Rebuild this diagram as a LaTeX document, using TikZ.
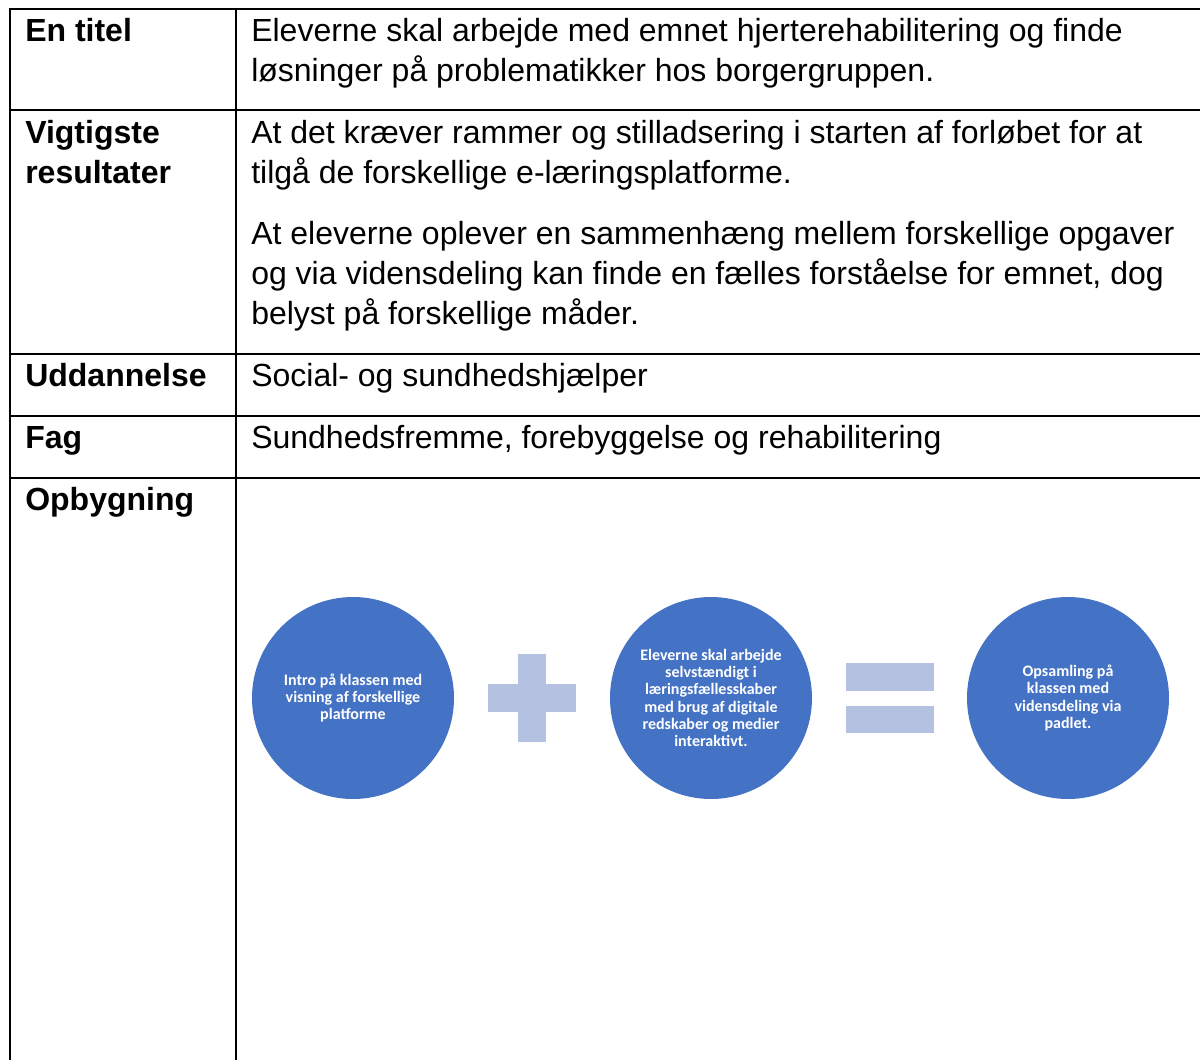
\documentclass[tikz,border=0pt]{standalone}
\usepackage{fontspec}
\setmainfont{Liberation Sans}
\newfontfamily\circfont{Carlito}
\definecolor{circblue}{HTML}{4472C4}
\definecolor{signblue}{HTML}{B4C1E1}

\begin{document}
\begin{tikzpicture}[x=0.75pt,y=-0.75pt,
  rule/.style={line width=1.6pt},
  head/.style={anchor=base west,inner sep=0pt,align=left,font=\fontsize{24}{30}\selectfont\bfseries},
  body/.style={anchor=base west,inner sep=0pt,align=left,font=\fontsize{24}{30}\selectfont},
  stepcirc/.style={circle,fill=circblue,minimum size=151.5pt,inner sep=0pt,text=white,align=center,font=\circfont\bfseries\fontsize{12}{13}\selectfont}]
\useasboundingbox (0,0) rectangle (1200,1060);

% table rules
\draw[rule] (10,1060) -- (10,9) -- (1200,9);
\draw[rule] (236,9) -- (236,1060);
\foreach \y in {110,354,416,478}
  \draw[rule] (10,\y) -- (1200,\y);

% left column (base = last line)
\node[head] (titel) at (25,41) {En titel};
\node[head] (result) at (25,183) {Vigtigste\\resultater};
\node[head] (udd) at (25,386) {Uddannelse};
\node[head] (fag) at (25,448) {Fag};
\node[head] (opb) at (25,510) {Opbygning};

% right column
\node[body] (titeltxt) at (251,81) {Eleverne skal arbejde med emnet hjerterehabilitering og finde\\l\o sninger p\aa{} problematikker hos borgergruppen.};
\node[body] (res1) at (251,183) {At det kr\ae ver rammer og stilladsering i starten af forl\o bet for at\\tilg\aa{} de forskellige e-l\ae ringsplatforme.};
\node[body] (res2) at (251,324) {At eleverne oplever en sammenh\ae ng mellem forskellige opgaver\\og via vidensdeling kan finde en f\ae lles forst\aa else for emnet, dog\\belyst p\aa{} forskellige m\aa der.};
\node[body] (uddtxt) at (251,386) {Social- og sundhedshj\ae lper};
\node[body] (fagtxt) at (251,448) {Sundhedsfremme, forebyggelse og rehabilitering};

% opbygning
\node[stepcirc] (intro) at (353,698) {Intro p\aa{} klassen med\\visning af forskellige\\platforme};
\node[stepcirc] (arbejde) at (711,698) {Eleverne skal arbejde\\selvst\ae ndigt i\\l\ae ringsf\ae llesskaber\\med brug af digitale\\redskaber og medier\\interaktivt.};
\node[stepcirc] (opsaml) at (1068,698) {Opsamling p\aa\\klassen med\\vidensdeling via\\padlet.};

\fill[signblue] (488,684) rectangle (576,712);
\fill[signblue] (518,654) rectangle (546,742);
\fill[signblue] (846,663) rectangle (934,691);
\fill[signblue] (846,706) rectangle (934,733);
\end{tikzpicture}
\end{document}
